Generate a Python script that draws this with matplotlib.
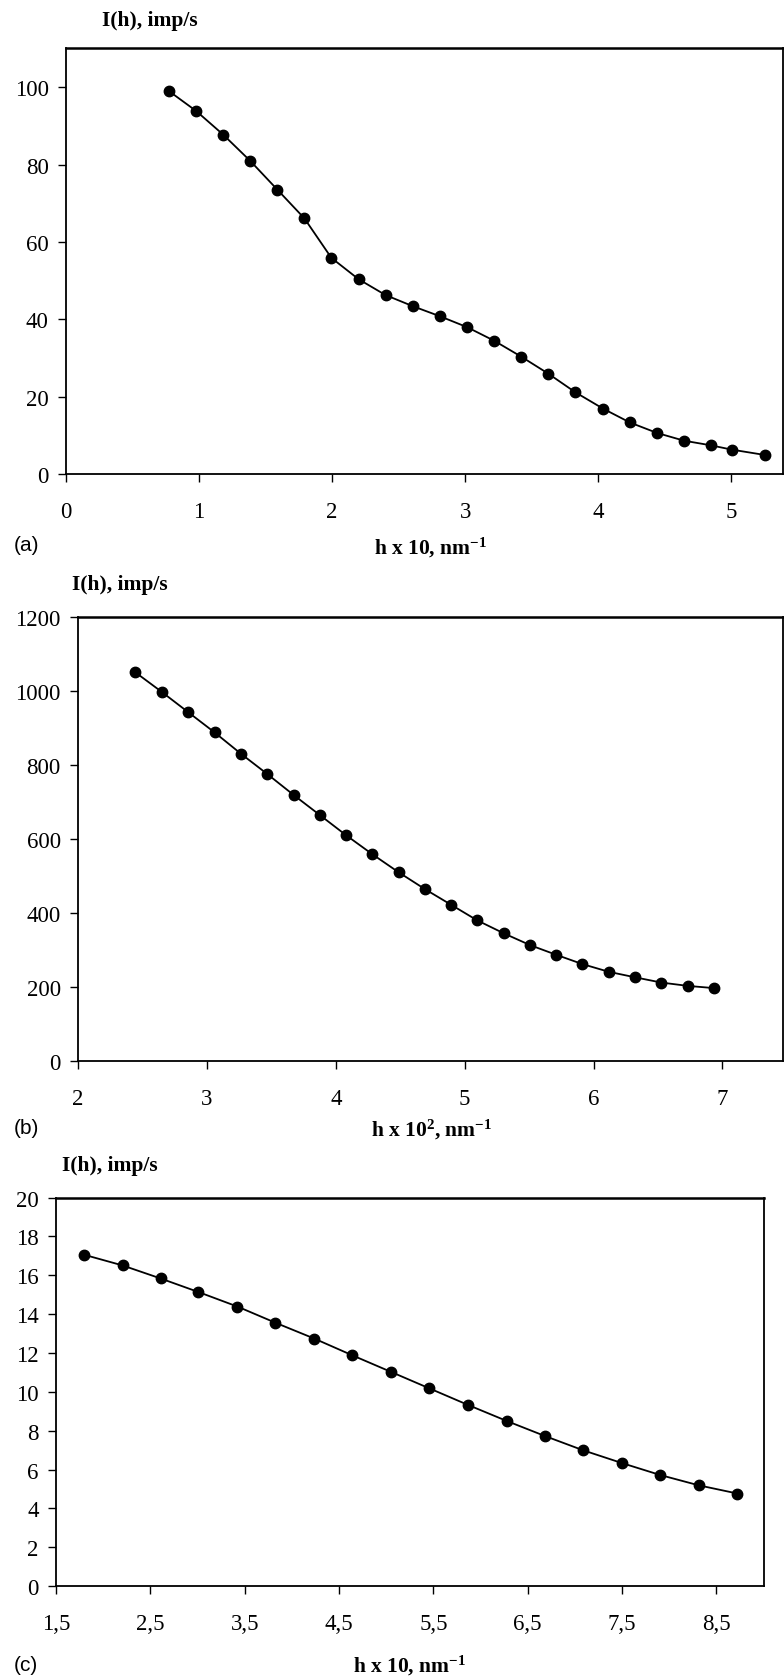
import matplotlib
matplotlib.use("Agg")
import matplotlib.pyplot as plt

SERIF = "Liberation Serif"
SANS = "Liberation Sans"
plt.rcParams["font.family"] = [SERIF, "DejaVu Serif"]
plt.rcParams["mathtext.fontset"] = "custom"
plt.rcParams["mathtext.rm"] = "Liberation Serif:bold"
plt.rcParams["mathtext.bf"] = "Liberation Serif:bold"
plt.rcParams["mathtext.it"] = "Liberation Serif:bold"

# ---- data ----
ha = [0.772, 0.979, 1.182, 1.386, 1.589, 1.792, 1.995, 2.199, 2.402, 2.609, 2.813, 3.016,
      3.219, 3.422, 3.626, 3.829, 4.036, 4.239, 4.443, 4.646, 4.849, 5.004, 5.256]
Ia = [99.0, 93.8, 87.7, 80.9, 73.5, 66.1, 55.9, 50.4, 46.3, 43.4, 40.8, 38.0,
      34.5, 30.4, 26.0, 21.2, 17.0, 13.4, 10.7, 8.7, 7.5, 6.4, 5.0]

hb = [2.443, 2.648, 2.854, 3.060, 3.262, 3.467, 3.673, 3.879, 4.077, 4.283, 4.488, 4.694,
      4.896, 5.098, 5.304, 5.509, 5.711, 5.913, 6.119, 6.325, 6.526, 6.732, 6.934]
Ib = [1051, 998, 943, 888, 831, 776, 719, 664, 611, 559, 510, 464,
      422, 380, 345, 313, 287, 262, 241, 226, 212, 203, 197]

hc = [1.797, 2.205, 2.608, 3.010, 3.424, 3.826, 4.240, 4.643, 5.056, 5.459, 5.872, 6.280,
      6.688, 7.091, 7.504, 7.907, 8.315, 8.723]
Ic = [17.06, 16.51, 15.84, 15.14, 14.39, 13.56, 12.74, 11.88, 11.02, 10.18, 9.32, 8.50,
      7.72, 6.99, 6.33, 5.72, 5.19, 4.77]

xticks_a = [0, 1, 2, 3, 4, 5]
yticks_a = [0, 20, 40, 60, 80, 100]
xticks_b = [2, 3, 4, 5, 6, 7]
yticks_b = [0, 200, 400, 600, 800, 1000, 1200]
xticks_c = [1.5, 2.5, 3.5, 4.5, 5.5, 6.5, 7.5, 8.5]
xticklabels_c = ["1,5", "2,5", "3,5", "4,5", "5,5", "6,5", "7,5", "8,5"]
yticks_c = [0, 2, 4, 6, 8, 10, 12, 14, 16, 18, 20]

W, H = 784, 1681
fig = plt.figure(figsize=(W / 100, H / 100), dpi=100)


def rect(l, t, r, b):
    return [l / W, 1 - b / H, (r - l) / W, (b - t) / H]


def panel(r, x, y, xlim, ylim, xt, yt, xtl=None):
    ax = fig.add_axes(rect(*r))
    ax.plot(x, y, color="black", lw=1.3, marker="o", ms=7.5,
            markerfacecolor="black", markeredgecolor="black", clip_on=False, zorder=3)
    ax.set_xlim(*xlim)
    ax.set_ylim(*ylim)
    ax.set_xticks(xt)
    if xtl is not None:
        ax.set_xticklabels(xtl)
    ax.set_yticks(yt)
    ax.tick_params(axis="both", labelsize=16.5)
    ax.tick_params(axis="x", direction="out", length=5.5, width=1, pad=14)
    ax.tick_params(axis="y", direction="out", length=5.5, width=1, pad=7)
    for s in ax.spines.values():
        s.set_linewidth(1.3)
        s.set_color("black")
    ax.spines["top"].set_linewidth(1.8)
    return ax


panel((66, 49.3, 783, 475.4), ha, Ia, (0, 5.39), (0, 110), xticks_a, yticks_a)
panel((78, 618, 783, 1062), hb, Ib, (2, 7.47), (0, 1200), xticks_b, yticks_b)
panel((56, 1198.6, 763.5, 1587.2), hc, Ic, (1.5, 9.0), (0, 20), xticks_c, yticks_c, xticklabels_c)


def ftext(x, y, s, **kw):
    fig.text(x / W, 1 - y / H, s, **kw)


lab_kw = dict(fontfamily=SERIF, fontweight="bold", fontsize=15.5, va="center")
ftext(102, 21, "I(h), imp/s", ha="left", **lab_kw)
ftext(72, 585, "I(h), imp/s", ha="left", **lab_kw)
ftext(62, 1166, "I(h), imp/s", ha="left", **lab_kw)

ftext(431, 548, r"h x 10, nm$^{-1}$", ha="center", **lab_kw)
ftext(432, 1130, r"h x 10$^{2}$, nm$^{-1}$", ha="center", **lab_kw)
ftext(410, 1666, r"h x 10, nm$^{-1}$", ha="center", **lab_kw)

pl_kw = dict(fontfamily=SANS, fontsize=15, va="center", ha="left")
ftext(14, 546, "(a)", **pl_kw)
ftext(14, 1128, "(b)", **pl_kw)
ftext(14, 1666, "(c)", **pl_kw)

fig.savefig("out.png", dpi=100)
